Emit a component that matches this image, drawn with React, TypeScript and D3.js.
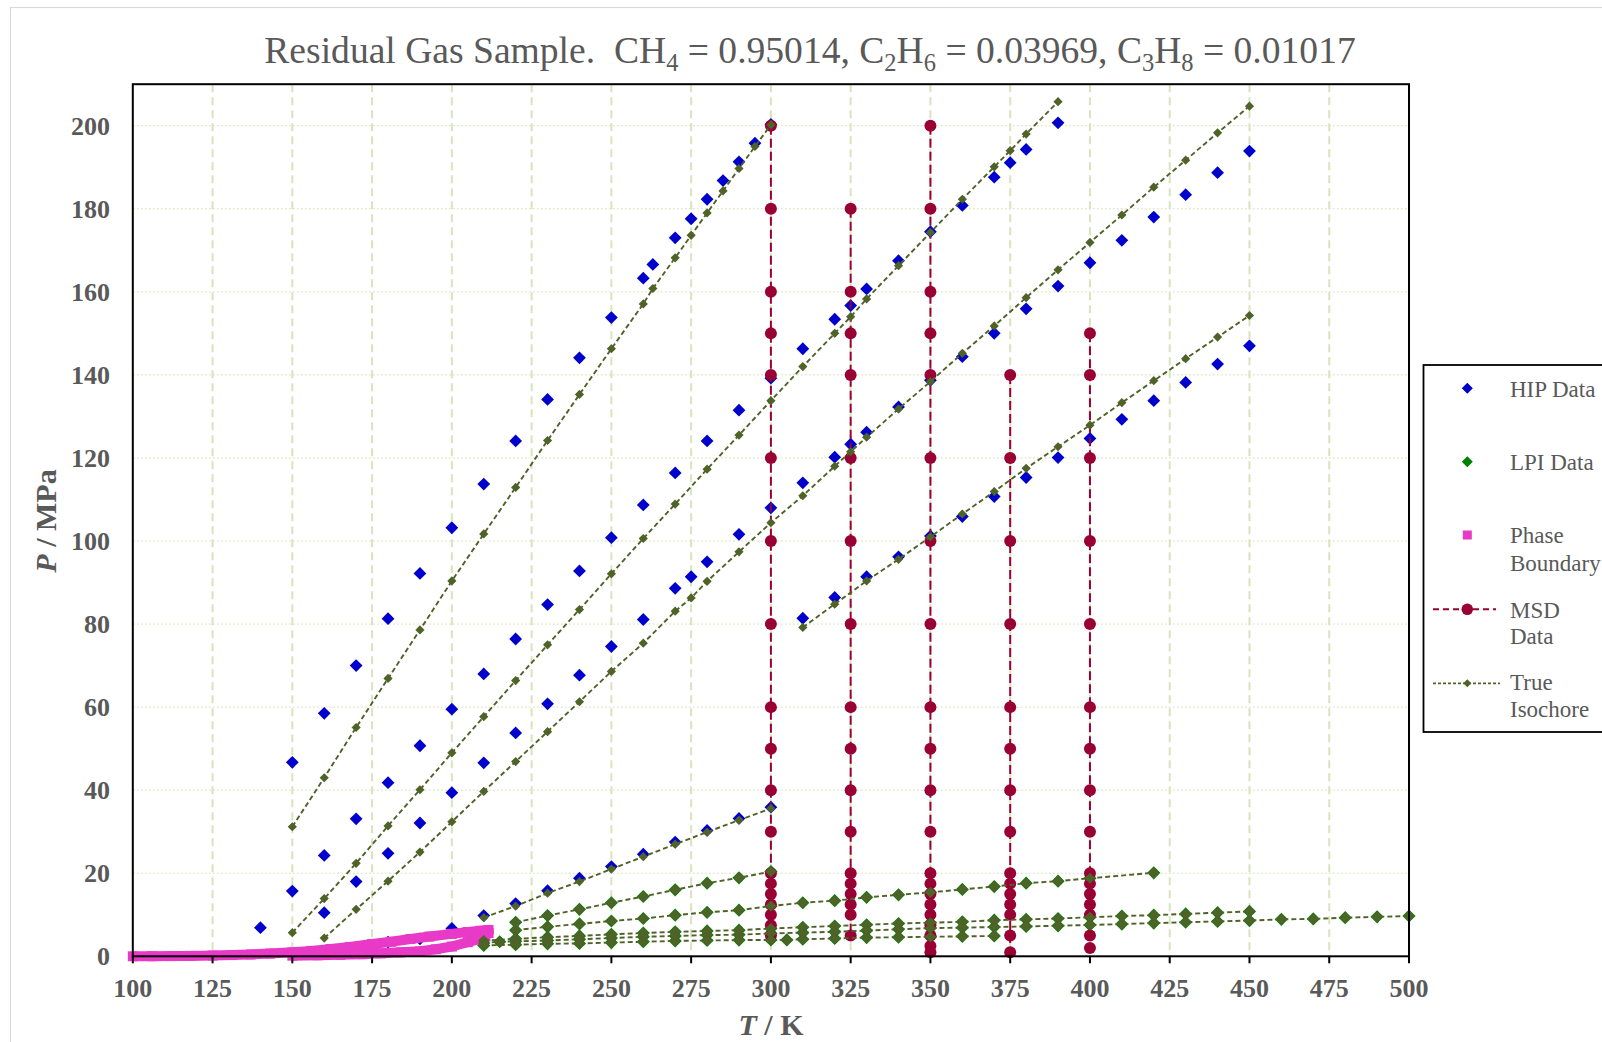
import React from 'react';
import * as d3 from 'd3';

type Pt = [number, number];

// ---------- data (T / K, P / MPa) ----------
const xTicks = [100, 125, 150, 175, 200, 225, 250, 275, 300, 325, 350, 375, 400, 425, 450, 475, 500];
const yTicks = [0, 20, 40, 60, 80, 100, 120, 140, 160, 180, 200];

// HIP data (blue diamonds)
const hip1: Pt[] = [[150,46.7],[160,58.5],[170,70.0],[180,81.3],[190,92.2],[200,103.2],[210,113.7],[220,124.1],[230,134.1],[240,144.1],[250,153.8],[260,163.3],[263,166.6],[270,173.0],[275,177.6],[280,182.3],[285,186.8],[290,191.3],[295,195.8],[300,200.3]];
const hip2: Pt[] = [[140,6.9],[150,15.7],[160,24.3],[170,33.1],[180,41.8],[190,50.7],[200,59.5],[210,68.0],[220,76.4],[230,84.7],[240,92.8],[250,100.8],[260,108.7],[270,116.4],[280,124.1],[290,131.5],[300,139.2],[310,146.3],[320,153.4],[325,156.7],[330,160.7],[340,167.5],[350,174.5],[360,180.8],[370,187.6],[375,191.1],[380,194.3],[390,200.7]];
const hip3: Pt[] = [[160,10.5],[170,18.0],[180,24.8],[190,32.1],[200,39.4],[210,46.6],[220,53.8],[230,60.8],[240,67.7],[250,74.6],[260,81.1],[270,88.6],[275,91.4],[280,95.0],[290,101.6],[300,108.0],[310,114.0],[320,120.2],[325,123.3],[330,126.2],[340,132.3],[350,138.7],[360,144.4],[370,150.0],[380,155.9],[390,161.4],[400,167.0],[410,172.4],[420,178.0],[430,183.4],[440,188.7],[450,193.9]];
const hip4: Pt[] = [[310,81.4],[320,86.4],[330,91.4],[340,96.2],[350,101.2],[360,105.9],[370,110.7],[380,115.3],[390,120.1],[400,124.7],[410,129.3],[420,133.8],[430,138.2],[440,142.6],[450,147.0]];
const hip5: Pt[] = [[180,3.4],[190,4.2],[200,6.7],[210,9.8],[220,12.7],[230,15.8],[240,18.8],[250,21.6],[260,24.6],[270,27.5],[280,30.3],[290,33.2],[300,35.9]];

// True isochores, high pressure
const iso1: Pt[] = [[150,31.2],[160,43.0],[170,55.1],[180,66.9],[190,78.6],[200,90.4],[210,101.7],[220,112.9],[230,124.2],[240,135.3],[250,146.3],[260,157.1],[263,160.8],[270,168.2],[275,173.6],[280,179.0],[285,184.3],[290,189.7],[295,195.0],[300,200.2]];
const iso2: Pt[] = [[150,5.7],[160,13.9],[170,22.4],[180,31.4],[190,40.1],[200,49.0],[210,57.7],[220,66.4],[230,75.0],[240,83.5],[250,92.1],[260,100.6],[270,108.9],[280,117.3],[290,125.5],[300,133.8],[310,142.0],[320,150.0],[325,154.0],[330,158.3],[340,166.3],[350,174.3],[360,182.3],[370,190.1],[375,194.0],[380,198.0],[390,205.8]];
const iso3: Pt[] = [[160,4.4],[170,11.3],[180,18.1],[190,25.1],[200,32.4],[210,39.7],[220,46.9],[230,54.1],[240,61.3],[250,68.6],[260,75.4],[270,83.1],[275,86.3],[280,90.3],[290,97.4],[300,104.4],[310,110.9],[320,118.0],[325,121.5],[330,125.0],[340,131.8],[350,138.4],[360,145.2],[370,151.8],[380,158.6],[390,165.3],[400,171.9],[410,178.5],[420,185.2],[430,191.7],[440,198.3],[450,204.7]];
const iso4: Pt[] = [[310,79.2],[320,84.8],[330,90.4],[340,95.6],[350,101.0],[360,106.5],[370,111.9],[380,117.5],[390,122.7],[400,127.9],[410,133.3],[420,138.6],[430,143.9],[440,149.1],[450,154.3]];
const iso5: Pt[] = [[210,9.3],[220,12.1],[230,15.2],[240,18.0],[250,21.0],[260,24.0],[270,27.0],[280,29.9],[290,32.8],[300,35.6]];

// Low-pressure isochores (LPI data + true isochore)
const lowA: Pt[] = [[220,8.2],[230,9.8],[240,11.3],[250,12.9],[260,14.4],[270,16.0],[280,17.6],[290,18.9],[300,20.4]];
const lowB: Pt[] = [[220,6.3],[230,7.1],[240,7.8],[250,8.5],[260,9.1],[270,9.9],[280,10.6],[290,11.1],[300,12.1],[310,12.9],[320,13.4],[330,14.2],[340,14.8],[350,15.4],[360,16.1],[370,16.8],[380,17.6],[390,18.1],[400,18.8],[420,20.1]];
const lowC: Pt[] = [[210,3.8],[220,4.2],[230,4.6],[240,4.9],[250,5.3],[260,5.6],[270,5.9],[280,6.1],[290,6.3],[300,6.7],[310,7.0],[320,7.3],[330,7.6],[340,7.9],[350,8.1],[360,8.3],[370,8.7],[380,8.9],[390,9.1],[400,9.4],[410,9.7],[420,9.9],[430,10.2],[440,10.5],[450,10.8]];
const lowD: Pt[] = [[210,3.2],[215,3.5],[220,3.6],[230,3.8],[240,4.1],[250,4.4],[260,4.7],[270,4.9],[280,5.1],[290,5.2],[300,5.5],[310,5.7],[320,5.9],[330,6.2],[340,6.5],[350,6.8],[360,6.9],[370,7.05],[380,7.2],[390,7.35],[400,7.55],[410,7.75],[420,8.0],[430,8.2],[440,8.4],[450,8.6],[460,8.9],[470,9.0],[480,9.3],[490,9.5],[500,9.7]];
const lowE: Pt[] = [[210,2.6],[220,2.8],[230,3.0],[240,3.1],[250,3.3],[260,3.5],[270,3.7],[280,3.8],[290,3.9],[300,3.95],[305,3.95],[310,4.1],[320,4.3],[330,4.5],[340,4.6],[350,4.7],[360,4.8],[370,4.9]];

// Phase boundary (envelope traced from dew branch to bubble branch)
const phase: Pt[] = [[100,0],[106,0.02],[112,0.05],[118,0.1],[125,0.18],[131,0.3],[137,0.45],[143,0.65],[150,0.95],[156,1.3],[162,1.75],[168,2.25],[175,2.95],[181,3.5],[187,4.15],[193,4.75],[200,5.4],[205,5.85],[209,6.15],[211.5,6.35],[211.5,5.6],[210.5,4.8],[208.5,4.1],[205,3.4],[200,2.35],[195,1.7],[190,1.2],[184,0.95],[178,0.72],[172,0.52],[165,0.36],[158,0.24],[150,0.15]];

// MSD data (vertical sets)
const msdT = [300, 325, 350, 375, 400];
const msd300 = [200,180,160,150,140,120,100,80,60,50,40,30,20,17.5,15,12.5,10,7.5,5];
const msd325 = [180,160,150,140,120,100,80,60,50,40,30,20,17.5,15,12.5,10,5];
const msd350 = [200,180,160,150,140,120,100,80,60,50,40,30,20,17.5,15,12.5,10,7.5,5,2.5,1];
const msd375 = [140,120,100,80,60,50,40,30,20,17.5,15,12.5,10,5,1];
const msd400 = [150,140,120,100,80,60,50,40,30,20,17.5,15,12.5,10,5,2];

const hipSets = [hip1, hip2, hip3, hip4, hip5];
const lpiSets = [lowA, lowB, lowC, lowD, lowE];
const trueSets = [iso1, iso2, iso3, iso4, iso5, lowA, lowB, lowC, lowD, lowE];
const msdSets = [msd300, msd325, msd350, msd375, msd400];

// ---------- styling ----------
const W = 1602, H = 1042;
const PL = 132.8, PR = 1409, PT = 84.2, PB = 956.3;
const SERIF = "'Liberation Serif', 'Times New Roman', Times, serif";
const GRAY = '#595959';
const C_HIP = '#0000CC';
const C_LPI = '#008000';
const C_PHASE = '#E83AC6';
const C_MSD = '#990033';
const C_TRUE = '#4F6228';
const C_GRID = '#D8E4BC';

const x = d3.scaleLinear().domain([100, 500]).range([PL, PR]);
const y = d3.scaleLinear().domain([0, 210]).range([PB, PT]);

const diamond = (cx: number, cy: number, s: number) =>
  `M${cx},${cy - s}L${cx + s},${cy}L${cx},${cy + s}L${cx - s},${cy}Z`;

const lineGen = d3.line<Pt>().x(d => x(d[0])).y(d => y(d[1]));

export default function App() {
  return (
    <div style={{ position: 'absolute', left: 0, top: 0, width: W, height: H, background: '#fff' }}>
      <svg width={W} height={H} style={{ display: 'block' }} fontFamily={SERIF}>
        <rect x={0} y={0} width={W} height={H} fill="#fff" />
        {/* outer chart border */}
        <rect x={10.5} y={7.5} width={1800} height={1200} fill="none" stroke="#D9D9D9" strokeWidth={1.2} />

        {/* title */}
        <text x={810} y={63} textAnchor="middle" fontSize={37.6} fill={GRAY} style={{ whiteSpace: 'pre' }}>
          <tspan>{'Residual Gas Sample.  CH'}</tspan>
          <tspan fontSize={24.5} dy={8}>{'4'}</tspan>
          <tspan dy={-8}>{' = 0.95014, C'}</tspan>
          <tspan fontSize={24.5} dy={8}>{'2'}</tspan>
          <tspan dy={-8}>{'H'}</tspan>
          <tspan fontSize={24.5} dy={8}>{'6'}</tspan>
          <tspan dy={-8}>{' = 0.03969, C'}</tspan>
          <tspan fontSize={24.5} dy={8}>{'3'}</tspan>
          <tspan dy={-8}>{'H'}</tspan>
          <tspan fontSize={24.5} dy={8}>{'8'}</tspan>
          <tspan dy={-8}>{' = 0.01017'}</tspan>
        </text>

        {/* gridlines */}
        {yTicks.filter(v => v > 0).map(v => (
          <line key={'hy' + v} x1={PL} x2={PR} y1={y(v)} y2={y(v)} stroke={C_GRID} strokeWidth={1} strokeDasharray="2,2" />
        ))}
        {xTicks.filter(v => v > 100 && v < 500).map(v => (
          <line key={'vx' + v} x1={x(v)} x2={x(v)} y1={PT} y2={PB} stroke={C_GRID} strokeWidth={2} strokeDasharray="8,5" />
        ))}

        {/* HIP data */}
        {hipSets.map((s, i) => s.map((d, j) => (
          <path key={`hip${i}-${j}`} d={diamond(x(d[0]), y(d[1]), 6.4)} fill={C_HIP} />
        )))}

        {/* LPI data */}
        {lpiSets.map((s, i) => s.map((d, j) => (
          <path key={`lpi${i}-${j}`} d={diamond(x(d[0]), y(d[1]), 6.6)} fill={C_LPI} />
        )))}

        {/* Phase boundary */}
        <path d={lineGen(phase) || ''} fill="none" stroke={C_PHASE} strokeWidth={10} strokeLinejoin="round" />
        {phase.map((d, j) => (
          <rect key={'ph' + j} x={x(d[0]) - 5} y={y(d[1]) - 5} width={10} height={10} fill={C_PHASE} />
        ))}

        {/* MSD data */}
        {msdSets.map((s, i) => {
          const pts: Pt[] = s.map(p => [msdT[i], p]);
          return (
            <g key={'msd' + i}>
              <path d={lineGen(pts) || ''} fill="none" stroke={C_MSD} strokeWidth={2} strokeDasharray="9,4" />
              {pts.map((d, j) => (
                <circle key={j} cx={x(d[0])} cy={y(d[1])} r={6} fill={C_MSD} />
              ))}
            </g>
          );
        })}

        {/* True isochores */}
        {trueSets.map((s, i) => (
          <g key={'iso' + i}>
            <path d={lineGen(s) || ''} fill="none" stroke={C_TRUE} strokeWidth={1.9} strokeDasharray="5,3" />
            {s.map((d, j) => (
              <path key={j} d={diamond(x(d[0]), y(d[1]), i >= 5 ? 5.6 : 4.6)} fill={C_TRUE} />
            ))}
          </g>
        ))}

        {/* plot frame */}
        <rect x={PL} y={PT} width={PR - PL} height={PB - PT} fill="none" stroke="#000" strokeWidth={2} />

        {/* x axis ticks & labels */}
        {xTicks.map(v => (
          <g key={'xt' + v}>
            <line x1={x(v)} x2={x(v)} y1={PB} y2={PB + 7} stroke="#000" strokeWidth={2} />
            <text x={x(v)} y={997} textAnchor="middle" fontSize={26} fontWeight="bold" fill={GRAY}>{v}</text>
          </g>
        ))}
        {/* y axis labels */}
        {yTicks.map(v => (
          <text key={'yt' + v} x={110} y={y(v) + 9} textAnchor="end" fontSize={26} fontWeight="bold" fill={GRAY}>{v}</text>
        ))}

        {/* axis titles */}
        <text x={771} y={1035} textAnchor="middle" fontSize={30} fontWeight="bold" fill={GRAY} style={{ whiteSpace: 'pre' }}>
          <tspan fontStyle="italic">T</tspan>{' / K'}
        </text>
        <text transform="translate(56,521) rotate(-90)" textAnchor="middle" fontSize={30} fontWeight="bold" fill={GRAY} style={{ whiteSpace: 'pre' }}>
          <tspan fontStyle="italic">P</tspan>{' / MPa'}
        </text>

        {/* legend */}
        <rect x={1423.5} y={365} width={400} height={367} fill="#fff" stroke="#000" strokeWidth={1.8} />
        <path d={diamond(1467.3, 388.3, 5.5)} fill={C_HIP} />
        <text x={1510} y={397} fontSize={23} fill={GRAY}>HIP Data</text>
        <path d={diamond(1467.3, 461.7, 5.5)} fill={C_LPI} />
        <text x={1510} y={470} fontSize={23} fill={GRAY}>LPI Data</text>
        <rect x={1467.3 - 4.5} y={535 - 4.5} width={9} height={9} fill={C_PHASE} />
        <text x={1510} y={543} fontSize={23} fill={GRAY}>Phase</text>
        <text x={1510} y={571} fontSize={23} fill={GRAY}>Boundary</text>
        <line x1={1433} x2={1496} y1={609.3} y2={609.3} stroke={C_MSD} strokeWidth={2} strokeDasharray="6,4" />
        <circle cx={1467.3} cy={609.3} r={5.8} fill={C_MSD} />
        <text x={1510} y={618} fontSize={23} fill={GRAY}>MSD</text>
        <text x={1510} y={644} fontSize={23} fill={GRAY}>Data</text>
        <line x1={1433} x2={1500} y1={683.3} y2={683.3} stroke={C_TRUE} strokeWidth={1.8} strokeDasharray="3,2" />
        <path d={diamond(1467.3, 683.3, 4)} fill={C_TRUE} />
        <text x={1510} y={690} fontSize={23} fill={GRAY}>True</text>
        <text x={1510} y={717} fontSize={23} fill={GRAY}>Isochore</text>
      </svg>
    </div>
  );
}
